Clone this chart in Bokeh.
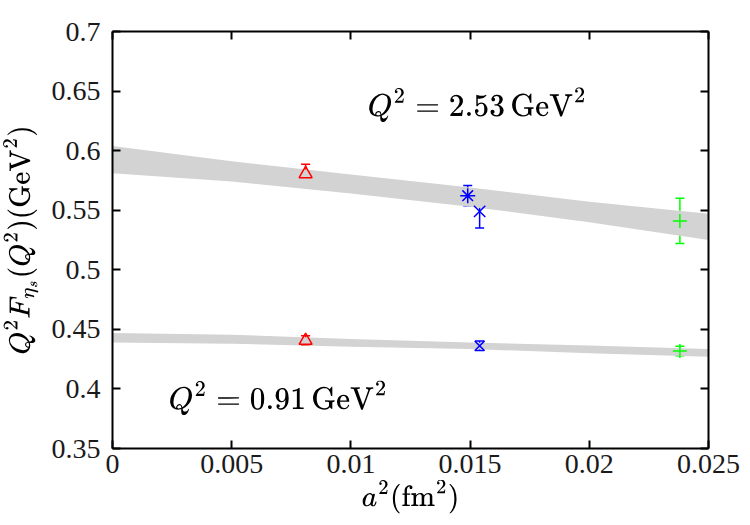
from bokeh.plotting import figure
from bokeh.models import (LinearAxis, FixedTicker, CustomJSTickFormatter, Whisker,
                          ColumnDataSource, TeeHead, Label)
from bokeh.embed import file_html
from bokeh.resources import INLINE

# Lattice points: a^2 (fm^2), Q^2 F(Q^2) and its error, for the two Q^2 values
# Q^2 = 2.53 GeV^2
hi_a2 = [0.0081, 0.0149, 0.0154, 0.0238]
hi_val = [0.5805, 0.5622, 0.5490, 0.5410]
hi_err = [0.0080, 0.0085, 0.0140, 0.0190]
# Q^2 = 0.91 GeV^2
lo_a2 = [0.0081, 0.0154, 0.0238]
lo_val = [0.4406, 0.4362, 0.4318]
lo_err = [0.0040, 0.0040, 0.0040]

ens_colors = ["red", "blue", "blue", "#00ff00"]
ens_markers = ["triangle", "asterisk", "x", "cross"]
ens_sizes = [13, 15, 16, 14]
lo_colors = ["red", "blue", "#00ff00"]
lo_markers = ["triangle", "x", "cross"]
lo_sizes = [13, 14, 14]

# Continuum-extrapolation error bands
band_a2 = [0.0, 0.005, 0.01, 0.015, 0.02, 0.025]
hi_band_low = [0.581, 0.574, 0.564, 0.553, 0.540, 0.525]
hi_band_high = [0.604, 0.591, 0.580, 0.569, 0.557, 0.547]
lo_band_low = [0.439, 0.438, 0.4355, 0.4335, 0.4300, 0.4270]
lo_band_high = [0.447, 0.4455, 0.4420, 0.4390, 0.4365, 0.4335]

x_ticks = [0, 0.005, 0.01, 0.015, 0.02, 0.025]
y_ticks = [0.35, 0.4, 0.45, 0.5, 0.55, 0.6, 0.65, 0.7]

FONT = "Liberation Serif"

p = figure(width=750, height=525, x_range=(0, 0.025), y_range=(0.35, 0.7),
           output_backend="svg", toolbar_location=None,
           min_border_left=112, min_border_right=42, min_border_top=31,
           min_border_bottom=77)
p.grid.visible = False
p.outline_line_color = None
p.background_fill_color = "white"
p.border_fill_color = "white"

xaxis = p.xaxis[0]
yaxis = p.yaxis[0]

# Bands
p.varea(x=band_a2, y1=hi_band_low, y2=hi_band_high, fill_color="#d3d3d3")
p.varea(x=band_a2, y1=lo_band_low, y2=lo_band_high, fill_color="#d3d3d3")

# Error bars and markers
def draw_points(xs, ys, es, colors, markers, sizes):
    src = ColumnDataSource(dict(x=xs, y=ys, lower=[y - e for y, e in zip(ys, es)],
                                upper=[y + e for y, e in zip(ys, es)],
                                color=colors, marker=markers, size=sizes))
    w = Whisker(base="x", lower="lower", upper="upper", source=src,
                line_color="color", line_width=1.5,
                lower_head=TeeHead(size=9, line_color="color", line_width=1.5),
                upper_head=TeeHead(size=9, line_color="color", line_width=1.5))
    p.add_layout(w)
    p.scatter(x="x", y="y", marker="marker", size="size", source=src,
              line_color="color", fill_color=None, line_width=1.5)

draw_points(hi_a2, hi_val, hi_err, ens_colors, ens_markers, ens_sizes)
draw_points(lo_a2, lo_val, lo_err, lo_colors, lo_markers, lo_sizes)

fmt = CustomJSTickFormatter(code="return Number(tick.toPrecision(6)).toString()")

def style_axis(ax, ticks, show_labels):
    ax.ticker = FixedTicker(ticks=ticks)
    ax.formatter = fmt
    ax.axis_line_color = "black"
    ax.axis_line_width = 2
    ax.major_tick_in = 8
    ax.major_tick_out = 0
    ax.major_tick_line_width = 2
    ax.minor_tick_line_color = None
    ax.major_label_text_font = FONT
    ax.major_label_text_font_size = "28px"
    ax.major_label_text_color = "#1a1a1a"
    if not show_labels:
        ax.major_label_text_font_size = "0px"
        ax.major_label_text_color = None
        ax.major_label_standoff = 0
        ax.axis_label_standoff = 0

style_axis(xaxis, x_ticks, True)
style_axis(yaxis, y_ticks, True)
xaxis.major_label_standoff = 6
yaxis.major_label_standoff = 12

right = LinearAxis()
top = LinearAxis()
p.add_layout(right, "right")
p.add_layout(top, "above")
style_axis(right, y_ticks, False)
style_axis(top, x_ticks, False)

xaxis.axis_label = r"$$a^2(\mathrm{fm}^2)$$"
xaxis.axis_label_text_font_size = "24px"
xaxis.axis_label_text_color = "black"
xaxis.axis_label_standoff = 4
yaxis.axis_label = r"$$Q^2F_{\eta_s}(Q^2)(\mathrm{GeV}^2)$$"
yaxis.axis_label_text_font_size = "24px"
yaxis.axis_label_text_color = "black"
yaxis.axis_label_standoff = 10

p.add_layout(Label(x=0.0107, y=0.624, text=r"$$Q^2 = 2.53\,\mathrm{GeV}^2$$",
                   text_font_size="26px", text_color="black", text_baseline="bottom"))
p.add_layout(Label(x=0.00235, y=0.378, text=r"$$Q^2 = 0.91\,\mathrm{GeV}^2$$",
                   text_font_size="26px", text_color="black", text_baseline="bottom"))

open("out.html", "w").write(file_html(p, INLINE))
